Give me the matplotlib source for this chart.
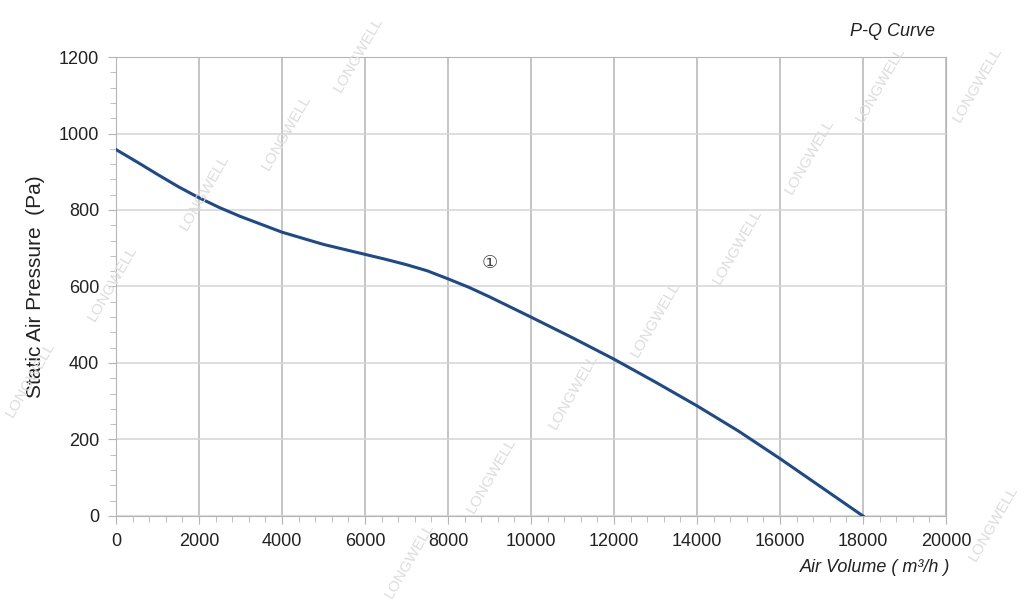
import matplotlib
matplotlib.use('Agg')
import matplotlib.pyplot as plt
from matplotlib.ticker import MultipleLocator

plt.rcParams['font.family'] = ['Liberation Sans', 'DejaVu Sans']

# P-Q curve
air_volume = [0, 500, 1000, 1500, 2000, 2500, 3000, 4000, 5000, 6000, 6500,
              7000, 7500, 8000, 8500, 9000, 10000, 11000, 12000, 13000,
              14000, 15000, 16000, 17000, 18000]
pressure = [958, 926, 893, 861, 832, 806, 783, 742, 710, 684, 671,
            657, 641, 620, 598, 573, 520, 466, 410, 350,
            288, 222, 150, 75, 0]

x_ticks = [0, 2000, 4000, 6000, 8000, 10000, 12000, 14000, 16000, 18000, 20000]
y_ticks = [0, 200, 400, 600, 800, 1000, 1200]

# watermark positions (figure fraction)
wm_pos = [(0.03, 0.37), (0.11, 0.53), (0.20, 0.68), (0.28, 0.78), (0.35, 0.91),
          (0.40, 0.07), (0.48, 0.21), (0.56, 0.35), (0.64, 0.47), (0.72, 0.59),
          (0.79, 0.74), (0.86, 0.86), (0.955, 0.86), (0.97, 0.13)]

fig = plt.figure(figsize=(10.24, 6.02), dpi=100)
ax = fig.add_axes([0.1133, 0.1429, 0.8105, 0.7624])

ax.plot(air_volume, pressure, color='#1d4a8a', lw=2.2, zorder=3)
ax.text(9000, 661, '\u2460', ha='center', va='center', fontsize=13,
        color='#444444', family=['DejaVu Sans'])

ax.set_xlim(0, 20000)
ax.set_ylim(0, 1200)
ax.set_xticks(x_ticks)
ax.set_yticks(y_ticks)
ax.xaxis.set_minor_locator(MultipleLocator(400))
ax.yaxis.set_minor_locator(MultipleLocator(40))
ax.grid(True, axis='x', which='major', color='#b5b5b5', lw=1.1)
ax.grid(True, axis='y', which='major', color='#d5d5d5', lw=1.1)
for s in ax.spines.values():
    s.set_color('#b5b5b5')
ax.tick_params(which='major', length=6, color='#b5b5b5', labelsize=13,
               labelcolor='#222222', pad=6)
ax.tick_params(which='minor', length=4, color='#b5b5b5')

ax.set_ylabel('Static Air Pressure  (Pa)', fontsize=15, color='#222222', labelpad=10)
fig.text(0.928, 0.058, 'Air Volume ( m\u00b3/h )', ha='right', va='center',
         fontsize=13, style='italic', color='#222222')
fig.text(0.913, 0.947, 'P-Q Curve', ha='right', va='center',
         fontsize=13, style='italic', color='#222222')

for (px, py) in wm_pos:
    fig.text(px, py, 'LONGWELL', rotation=60, ha='center', va='center',
             fontsize=11, color='#dcdcdc', zorder=0)

fig.savefig('out.png', dpi=100)
